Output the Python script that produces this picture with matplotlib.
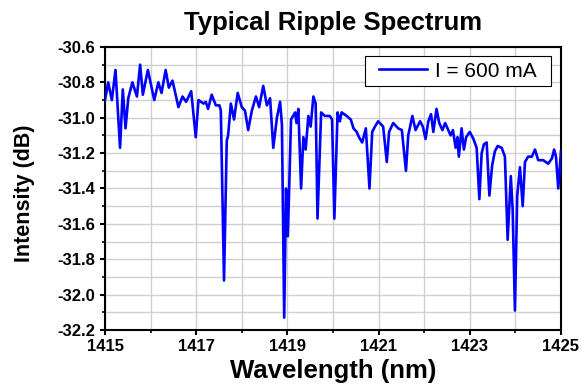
import matplotlib
matplotlib.use("Agg")
import matplotlib.pyplot as plt
from matplotlib.ticker import MultipleLocator
from matplotlib.patches import Rectangle
from matplotlib.transforms import IdentityTransform

plt.rcParams['font.family'] = ['Liberation Sans', 'DejaVu Sans']

wavelength = [
    1415.00, 1415.07, 1415.15, 1415.23, 1415.33, 1415.39, 1415.45, 1415.51, 1415.60, 1415.70,
    1415.77, 1415.83, 1415.94, 1416.08, 1416.17, 1416.24, 1416.33, 1416.40, 1416.48, 1416.61,
    1416.70, 1416.78, 1416.89, 1416.99, 1417.05, 1417.16, 1417.21, 1417.26, 1417.34, 1417.43,
    1417.51, 1417.54, 1417.61, 1417.67, 1417.70, 1417.76, 1417.83, 1417.91, 1418.00, 1418.07,
    1418.14, 1418.22, 1418.31, 1418.38, 1418.47, 1418.55, 1418.62, 1418.69, 1418.77, 1418.84,
    1418.88, 1418.93, 1418.97, 1419.01, 1419.08, 1419.17, 1419.20, 1419.24, 1419.30, 1419.35,
    1419.40, 1419.46, 1419.51, 1419.57, 1419.62, 1419.66, 1419.74, 1419.82, 1419.93, 1419.98,
    1420.03, 1420.10, 1420.15, 1420.19, 1420.30, 1420.39, 1420.45, 1420.52, 1420.57, 1420.64,
    1420.72, 1420.80, 1420.86, 1420.92, 1420.99, 1421.10, 1421.18, 1421.23, 1421.32, 1421.43,
    1421.51, 1421.60, 1421.65, 1421.74, 1421.81, 1421.91, 1421.97, 1422.03, 1422.09, 1422.15,
    1422.20, 1422.27, 1422.33, 1422.40, 1422.46, 1422.53, 1422.58, 1422.63, 1422.69, 1422.73,
    1422.76, 1422.82, 1422.87, 1422.92, 1423.00, 1423.08, 1423.15, 1423.21, 1423.26, 1423.31,
    1423.37, 1423.43, 1423.49, 1423.55, 1423.61, 1423.70, 1423.77, 1423.83, 1423.90, 1423.94,
    1423.99, 1424.04, 1424.10, 1424.16, 1424.21, 1424.28, 1424.36, 1424.43, 1424.50, 1424.61,
    1424.72, 1424.80, 1424.85, 1424.89, 1424.94, 1425.00,
]
intensity = [
    -30.90, -30.80, -30.90, -30.73, -31.17, -30.84, -31.06, -30.89, -30.80, -30.88,
    -30.70, -30.87, -30.73, -30.90, -30.80, -30.86, -30.73, -30.83, -30.79, -30.94,
    -30.88, -30.91, -30.85, -31.11, -30.90, -30.92, -30.91, -30.95, -30.87, -30.93,
    -30.93, -30.96, -31.92, -31.13, -31.10, -30.92, -31.01, -30.86, -30.94, -30.96,
    -31.07, -30.96, -30.88, -30.94, -30.82, -30.93, -30.89, -31.17, -31.00, -30.91,
    -31.04, -32.13, -31.40, -31.67, -31.01, -30.97, -31.03, -30.95, -31.40, -31.11,
    -31.18, -30.99, -31.05, -30.88, -30.92, -31.57, -30.97, -30.99, -30.99, -31.01,
    -31.57, -30.97, -31.02, -30.97, -30.99, -31.01, -31.06, -31.08, -31.11, -31.14,
    -31.06, -31.40, -31.08, -31.05, -31.02, -31.05, -31.25, -31.08, -31.03, -31.06,
    -31.07, -31.30, -31.10, -30.99, -31.07, -31.02, -31.05, -31.12, -31.02, -30.98,
    -31.08, -30.95, -31.03, -31.07, -31.03, -31.07, -31.10, -31.07, -31.17, -31.11,
    -31.22, -31.06, -31.18, -31.11, -31.08, -31.12, -31.17, -31.46, -31.20, -31.15,
    -31.14, -31.44, -31.27, -31.19, -31.16, -31.17, -31.22, -31.69, -31.33, -31.52,
    -32.09, -31.44, -31.28, -31.50, -31.25, -31.22, -31.22, -31.18, -31.24, -31.24,
    -31.26, -31.23, -31.18, -31.22, -31.40, -31.19,
]
x_ticks = [1415, 1417, 1419, 1421, 1423, 1425]
y_ticks = [-32.2, -32.0, -31.8, -31.6, -31.4, -31.2, -31.0, -30.8, -30.6]
series_label = "I = 600 mA"

fig = plt.figure(figsize=(5.84, 3.87), dpi=100)
ax = fig.add_axes([0.1798, 0.1473, 0.7808, 0.7313])

ax.plot(wavelength, intensity, color='#0000ff', lw=1.9, label=series_label, zorder=3)

ax.set_xlim(1415, 1425)
ax.set_ylim(-32.2, -30.6)
ax.set_xticks(x_ticks)
ax.set_yticks(y_ticks)
ax.set_yticklabels([f"{v:.1f}" for v in y_ticks])
ax.xaxis.set_minor_locator(MultipleLocator(1))
ax.yaxis.set_minor_locator(MultipleLocator(0.1))
ax.grid(True, which='both', color='#cfcfcf', lw=1.0, zorder=0)
ax.set_axisbelow(True)

for s in ax.spines.values():
    s.set_linewidth(1.5)
ax.tick_params(which='major', direction='out', length=3.8, width=1.5, labelsize=12, pad=3)
ax.tick_params(which='minor', direction='out', length=2.2, width=1.2)
for lab in ax.get_xticklabels() + ax.get_yticklabels():
    lab.set_fontweight('bold')

ax.set_xlabel("Wavelength (nm)", fontsize=18.5, fontweight='bold', labelpad=3)
ax.set_ylabel("Intensity (dB)", fontsize=15.5, fontweight='bold')
ax.yaxis.set_label_coords(-0.153, 0.484)
ax.set_title("Typical Ripple Spectrum", fontsize=18.5, fontweight='bold', pad=12)

# legend content (frame drawn separately for wider side padding)
leg = ax.legend(loc='upper right', bbox_to_anchor=(0.947, 0.948), fontsize=15,
                frameon=False, handlelength=2.3, handletextpad=0.4,
                borderaxespad=0.0, borderpad=0.0)
leg.set_zorder(6)
fig.canvas.draw()
bb = leg.get_window_extent(fig.canvas.get_renderer())
pad_x = 14
box_h = 30
cy = (bb.y0 + bb.y1) / 2.0
frame = Rectangle((bb.x0 - pad_x, cy - box_h / 2.0), bb.width + 2 * pad_x, box_h,
                  transform=IdentityTransform(), facecolor='white', edgecolor='black',
                  lw=0.8, zorder=5.5, clip_on=False)
ax.add_artist(frame)

fig.savefig("out.png", dpi=100)
